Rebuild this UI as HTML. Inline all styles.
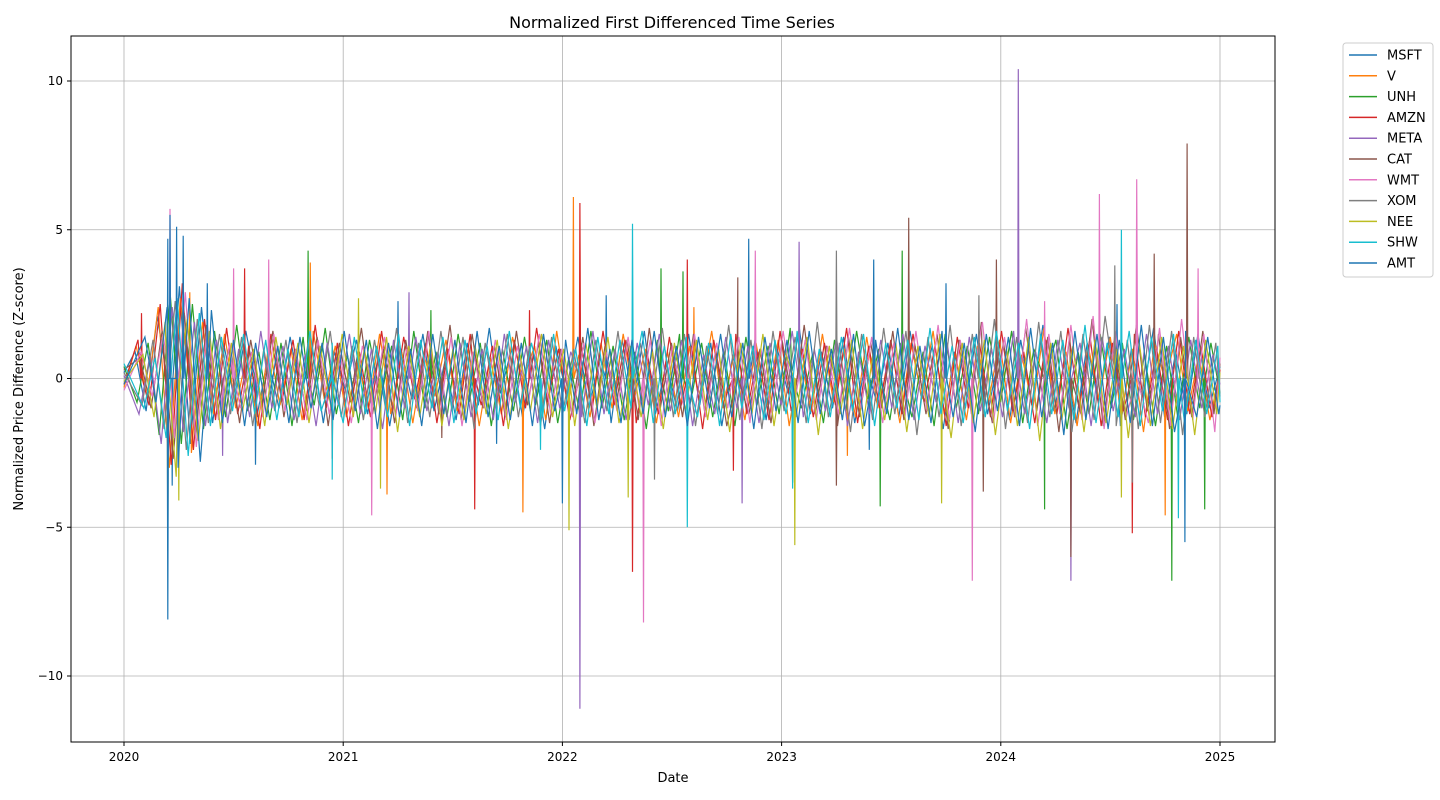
<!DOCTYPE html>
<html><head><meta charset="utf-8">
<style>
html,body{margin:0;padding:0;background:#fff;width:1440px;height:800px;overflow:hidden;font-family:"Liberation Sans","DejaVu Sans",sans-serif}
svg text{font-family:"DejaVu Sans","Liberation Sans",sans-serif}
</style></head><body>
<svg id="chart" width="1440" height="800" xmlns="http://www.w3.org/2000/svg">
<text x="672" y="28" text-anchor="middle" font-size="16">Normalized First Differenced Time Series</text>
<g id="grid"></g>
<clipPath id="cp"><rect x="71" y="36" width="1204" height="706"/></clipPath>
<g id="lines" clip-path="url(#cp)"></g>
<rect x="71" y="36" width="1204" height="706" fill="none" stroke="#000" stroke-width="1"/>
<g id="axes"></g>
<text x="673" y="782" text-anchor="middle" font-size="13">Date</text>
<text transform="translate(23,389) rotate(-90)" text-anchor="middle" font-size="13">Normalized Price Difference (Z-score)</text>
<g id="legend"></g>
</svg>
<script>
const names=["MSFT","V","UNH","AMZN","META","CAT","WMT","XOM","NEE","SHW","AMT"];
const colors=["#1f77b4","#ff7f0e","#2ca02c","#d62728","#9467bd","#8c564b","#e377c2","#7f7f7f","#bcbd22","#17becf","#1f77b4"];
const xTicks=[2020,2021,2022,2023,2024,2025];
const yTicks=[-10,-5,0,5,10];
const baseMSFT=[0.2,0.9,-1.1,2.1,-2.6,3.1,-2.2,2.4,-1.5,1.2,-0.8,1.6,-1.3,0.7,-1.0,1.4,-0.6,1.1,-1.5,0.9,-0.4,1.3,-1.2,0.8,-1.6,1.0,-0.7,1.5,-1.1,0.6,-1.4,1.2,-0.9,1.7,-0.5,1.0,-1.3,0.8,-1.7,1.1,-0.6,1.4,-1.0,0.7,-1.5,1.3,-0.8,1.6,-1.2,0.5,-1.1,1.5,-0.9,1.2,-1.6,0.8,-0.7,1.3,-1.4,1.0,-0.5,1.7,-1.2,0.9,-1.0,1.4,-1.5,0.6,-0.8,1.2,-1.3,1.6,-0.6,1.1,-1.7,0.9,-1.0,1.5,-1.2,0.7,-1.4,1.3,-0.9,1.8,-1.1,0.6,-1.5,1.2,-0.8,1.4,-1.6,1.0,-0.7,1.7,-1.3,0.9,-1.2,1.5,-1.0,0.4];
const baseV=[-0.3,1.1,-0.6,2.4,-3.0,2.7,-2.5,1.9,-1.2,1.5,-1.0,0.8,-1.6,1.2,-0.9,1.0,-1.4,1.6,-0.7,1.1,-1.3,0.6,-1.0,1.5,-1.2,0.9,-1.5,0.8,-0.6,1.3,-1.1,1.0,-1.6,0.7,-1.2,1.4,-0.8,1.1,-1.4,1.6,-0.9,0.8,-1.3,1.2,-1.0,1.5,-0.7,1.0,-1.5,0.9,-1.3,1.1,-0.6,1.6,-1.0,0.8,-1.4,1.2,-0.9,1.3,-1.6,0.7,-1.1,1.5,-0.8,1.0,-1.3,1.4,-1.0,0.6,-1.5,1.2,-0.7,1.6,-1.2,0.9,-1.4,1.1,-0.8,1.3,-1.5,0.8,-1.0,1.7,-1.2,0.9,-1.6,1.1,-0.7,1.4,-1.3,1.0,-1.8,1.2,-0.9,1.5,-1.1,0.8,-1.4,0.3];
const baseUNH=[0.4,-0.8,1.2,-1.9,2.8,-2.2,2.5,-1.7,1.6,-1.3,1.8,-1.1,0.9,-1.4,1.2,-1.6,1.4,-0.9,1.7,-1.2,0.8,-1.5,1.3,-0.7,1.1,-1.4,1.6,-1.0,0.9,-1.3,1.5,-0.8,1.2,-1.6,1.0,-1.1,1.4,-0.9,1.3,-1.5,0.7,-1.2,1.6,-1.0,1.1,-1.4,0.9,-1.7,1.3,-1.1,1.5,-0.8,1.2,-1.3,1.0,-1.6,1.4,-0.9,1.1,-1.2,1.7,-1.0,0.8,-1.5,1.3,-1.1,1.6,-0.7,1.0,-1.4,1.2,-1.3,0.9,-1.6,1.5,-1.0,1.1,-1.2,1.4,-0.8,1.6,-1.5,1.0,-1.1,1.3,-1.7,0.9,-1.2,1.5,-1.0,1.2,-1.4,0.8,-1.6,1.1,-1.3,1.4,-1.0,1.2,-0.5];
const baseAMZN=[-0.2,1.3,-0.9,2.5,-2.9,3.2,-2.4,2.0,-1.4,1.7,-1.2,1.1,-1.7,1.5,-0.8,1.3,-1.4,1.8,-1.0,1.2,-1.6,0.9,-1.3,1.6,-1.1,1.4,-0.7,1.2,-1.5,1.0,-1.2,1.5,-0.9,1.1,-1.6,1.3,-1.0,1.7,-0.8,1.0,-1.4,1.2,-1.1,1.6,-0.9,1.3,-1.5,0.8,-1.2,1.4,-1.0,1.1,-1.7,1.3,-0.7,1.5,-1.2,0.9,-1.4,1.6,-1.1,1.0,-1.3,1.2,-0.9,1.7,-1.5,1.1,-1.0,1.3,-1.2,1.5,-0.8,1.1,-1.6,1.4,-1.0,1.2,-1.3,1.6,-1.1,0.9,-1.5,1.3,-1.2,1.7,-1.0,1.4,-1.6,1.2,-1.1,1.5,-1.3,1.0,-1.4,1.6,-1.2,1.1,-1.3,0.3];
const baseMETA=[0.1,-1.2,0.8,-2.2,2.4,-1.8,1.9,-1.6,1.3,-1.5,1.0,-1.3,1.6,-1.0,1.1,-1.4,0.8,-1.6,1.2,-0.9,1.5,-1.2,1.0,-1.7,1.3,-1.0,1.4,-1.1,0.9,-1.6,1.2,-1.3,1.0,-1.4,1.5,-0.8,1.1,-1.5,1.3,-1.0,0.9,-1.3,1.6,-1.2,1.0,-1.4,1.2,-0.9,1.5,-1.1,1.3,-1.6,0.8,-1.2,1.4,-1.0,1.1,-1.5,1.2,-0.9,1.6,-1.3,1.0,-1.1,1.4,-1.6,0.9,-1.2,1.3,-1.0,1.5,-1.4,1.1,-0.8,1.2,-1.5,1.4,-1.1,1.0,-1.3,1.6,-1.2,0.9,-1.5,1.3,-1.0,1.2,-1.6,1.4,-1.1,1.0,-1.3,1.5,-1.2,1.1,-1.4,1.3,-1.0,0.8,-0.2];
const baseCAT=[0.3,0.7,-1.0,1.6,-2.7,2.2,-2.0,1.8,-1.2,1.0,-1.5,1.3,-0.9,1.6,-1.3,1.0,-1.1,1.4,-1.6,1.2,-0.8,1.7,-1.2,1.0,-1.5,1.3,-1.0,1.6,-1.2,1.8,-1.4,1.5,-1.0,1.1,-1.3,1.6,-0.9,1.2,-1.5,1.0,-1.2,1.4,-1.6,1.1,-0.9,1.3,-1.4,1.7,-1.0,1.2,-1.3,1.5,-1.1,0.9,-1.6,1.4,-1.2,1.0,-1.5,1.3,-1.0,1.8,-1.2,1.1,-1.6,1.4,-1.3,1.2,-1.0,1.6,-1.4,1.1,-1.2,1.5,-1.7,1.3,-1.0,1.9,-1.5,1.2,-1.3,1.7,-1.1,1.4,-1.8,1.5,-1.2,2.0,-1.6,1.3,-1.4,1.8,-1.1,1.5,-1.7,1.4,-1.3,1.6,-1.2,0.5];
const baseWMT=[-0.4,0.9,-0.6,1.5,-2.0,2.9,-2.3,1.8,-1.4,1.2,-1.0,0.9,-1.3,1.5,-1.1,1.0,-1.4,1.3,-1.2,0.8,-1.5,1.1,-0.9,1.4,-1.3,1.0,-1.1,1.6,-1.2,1.4,-1.6,0.9,-1.0,1.3,-1.4,1.1,-0.8,1.5,-1.2,1.0,-1.3,1.2,-1.5,0.9,-1.1,1.4,-1.0,1.3,-1.6,1.1,-0.9,1.5,-1.3,1.2,-1.0,1.4,-1.5,1.0,-1.2,1.6,-0.9,1.3,-1.4,1.1,-1.2,1.7,-1.0,1.4,-1.5,1.2,-1.3,1.6,-1.1,1.8,-1.4,1.3,-1.2,1.9,-1.5,1.4,-1.3,2.0,-1.6,1.5,-1.2,1.8,-1.4,2.1,-1.7,1.6,-1.3,1.9,-1.5,1.7,-1.6,2.0,-1.4,1.5,-1.8,0.7];
const baseXOM=[0.2,-0.9,1.3,-1.7,2.6,-2.4,2.0,-1.5,1.5,-1.2,1.4,-1.6,1.0,-1.1,1.3,-1.5,1.2,-0.9,1.6,-1.3,1.1,-1.4,1.3,-1.0,1.7,-1.5,1.2,-1.3,1.6,-1.1,1.4,-1.7,1.2,-1.0,1.5,-1.3,1.1,-1.6,1.4,-1.2,1.0,-1.5,1.3,-1.1,1.6,-1.4,1.2,-1.0,1.7,-1.3,1.5,-1.6,1.1,-1.2,1.8,-1.4,1.3,-1.7,1.6,-1.1,1.4,-1.5,1.9,-1.3,1.2,-1.8,1.5,-1.4,1.7,-1.2,1.6,-1.9,1.4,-1.3,1.8,-1.6,1.5,-1.2,2.0,-1.7,1.4,-1.5,1.9,-1.3,1.6,-1.8,1.5,-1.4,2.1,-1.6,1.3,-1.7,1.8,-1.5,1.6,-1.9,1.4,-1.3,1.2,-0.6];
const baseNEE=[-0.1,0.8,-1.3,1.9,-3.3,2.0,-2.1,1.6,-1.7,1.2,-1.1,1.0,-1.6,1.4,-0.9,1.2,-1.5,1.1,-1.0,1.5,-1.3,1.0,-1.2,1.4,-1.8,1.1,-1.3,1.2,-1.6,1.0,-1.4,1.1,-1.2,1.3,-1.7,0.9,-1.1,1.5,-1.3,1.0,-1.6,1.2,-1.0,1.4,-1.5,1.1,-1.3,0.9,-1.7,1.2,-1.1,1.3,-1.4,1.0,-1.8,1.2,-1.2,1.5,-1.6,0.9,-1.3,1.4,-1.9,1.1,-1.2,1.3,-1.7,1.0,-1.4,1.2,-1.8,1.1,-1.3,1.5,-2.0,1.2,-1.5,1.3,-1.9,1.0,-1.6,1.4,-2.1,1.2,-1.4,1.1,-1.8,1.3,-1.5,1.0,-2.0,1.2,-1.6,1.4,-1.7,1.1,-1.9,1.3,-1.2,0.2];
const baseSHW=[0.5,-1.0,0.7,-2.0,2.7,-2.6,2.2,-1.6,1.4,-1.1,1.5,-1.2,1.3,-1.4,1.0,-1.3,1.6,-1.1,1.2,-1.5,1.4,-1.2,1.1,-1.3,1.5,-1.6,1.3,-1.0,1.4,-1.5,1.3,-1.2,1.1,-1.4,1.6,-1.0,1.2,-1.3,1.5,-1.1,1.0,-1.6,1.4,-1.2,1.3,-1.0,1.6,-1.5,1.1,-1.2,1.4,-1.3,1.2,-1.6,1.5,-1.0,1.1,-1.4,1.3,-1.2,1.6,-1.5,1.0,-1.3,1.4,-1.1,1.5,-1.6,1.2,-1.0,1.3,-1.4,1.7,-1.2,1.1,-1.5,1.4,-1.3,1.6,-1.1,1.2,-1.7,1.5,-1.2,1.3,-1.4,1.8,-1.5,1.2,-1.3,1.6,-1.6,1.4,-1.1,1.5,-1.5,1.3,-1.2,1.1,-0.8];
const baseAMT=[-0.2,1.4,-0.8,2.4,-3.0,2.7,-2.8,2.3,-1.5,1.3,-1.6,1.2,-1.3,1.1,-1.5,1.4,-1.0,1.2,-1.4,1.6,-1.1,1.3,-1.7,1.2,-1.3,1.0,-1.6,1.5,-1.2,1.3,-1.5,1.6,-1.3,1.1,-1.4,1.2,-1.6,1.5,-1.1,1.3,-1.2,1.7,-1.4,1.0,-1.5,1.3,-1.2,1.6,-1.3,1.1,-1.6,1.4,-1.0,1.5,-1.3,1.2,-1.7,1.4,-1.1,1.3,-1.5,1.6,-1.2,1.0,-1.4,1.5,-1.6,1.3,-1.2,1.7,-1.4,1.1,-1.5,1.6,-1.3,1.2,-1.8,1.5,-1.1,1.4,-1.6,1.7,-1.3,1.2,-1.9,1.6,-1.4,1.5,-1.7,1.3,-1.5,1.8,-1.6,1.4,-1.8,1.6,-1.3,1.4,-1.2,-0.9];
const spikeMSFT=[[2020.2,4.7],[2020.22,-3.6],[2020.6,-2.9],[2021.25,2.6],[2021.7,-2.2],[2022.2,2.8],[2022.85,4.7],[2023.4,-2.4],[2024.53,2.5]];
const spikeV=[[2020.3,2.9],[2020.85,3.9],[2021.2,-3.9],[2021.82,-4.5],[2022.05,6.1],[2022.6,2.4],[2023.3,-2.6],[2024.75,-4.6]];
const spikeUNH=[[2020.84,4.3],[2021.4,2.3],[2022.45,3.7],[2022.55,3.6],[2023.05,-3.5],[2023.55,4.3],[2023.45,-4.3],[2024.2,-4.4],[2024.78,-6.8],[2024.93,-4.4]];
const spikeAMZN=[[2020.08,2.2],[2020.55,3.7],[2020.95,-2.7],[2021.6,-4.4],[2021.85,2.3],[2022.08,5.9],[2022.32,-6.5],[2022.57,4.0],[2022.78,-3.1],[2024.6,-5.2]];
const spikeMETA=[[2020.45,-2.6],[2021.3,2.9],[2022.08,-11.1],[2022.82,-4.2],[2023.08,4.6],[2024.08,10.4],[2024.32,-6.8]];
const spikeCAT=[[2021.45,-2.0],[2022.8,3.4],[2023.25,-3.6],[2023.58,5.4],[2023.98,4.0],[2023.92,-3.8],[2024.32,-6.0],[2024.7,4.2],[2024.85,7.9]];
const spikeWMT=[[2020.21,5.7],[2020.5,3.7],[2020.66,4.0],[2021.13,-4.6],[2022.37,-8.2],[2022.88,4.3],[2023.87,-6.8],[2024.2,2.6],[2024.45,6.2],[2024.62,6.7],[2024.9,3.7]];
const spikeXOM=[[2022.42,-3.4],[2023.25,4.3],[2023.9,2.8],[2024.52,3.8],[2024.6,-3.5]];
const spikeNEE=[[2020.2,-5.8],[2020.25,-4.1],[2021.07,2.7],[2021.17,-3.7],[2022.03,-5.1],[2022.3,-4.0],[2023.06,-5.6],[2023.73,-4.2],[2024.55,-4.0]];
const spikeSHW=[[2020.95,-3.4],[2021.9,-2.4],[2022.32,5.2],[2022.57,-5.0],[2023.05,-3.7],[2024.55,5.0],[2024.81,-4.7]];
const spikeAMT=[[2020.2,-8.1],[2020.21,5.5],[2020.24,5.1],[2020.27,4.8],[2020.38,3.2],[2022.0,-4.2],[2023.42,4.0],[2023.75,3.2],[2024.84,-5.5]];
const bases=[baseMSFT,baseV,baseUNH,baseAMZN,baseMETA,baseCAT,baseWMT,baseXOM,baseNEE,baseSHW,baseAMT];
const spikes=[spikeMSFT,spikeV,spikeUNH,spikeAMZN,spikeMETA,spikeCAT,spikeWMT,spikeXOM,spikeNEE,spikeSHW,spikeAMT];

const X=t=>124+(t-2020)*219.2;
const Y=v=>378.5-v*29.75;
const NS="http://www.w3.org/2000/svg";
const grid=document.getElementById('grid'),axes=document.getElementById('axes');
function mk(tag,attrs,parent){const e=document.createElementNS(NS,tag);for(const k in attrs)e.setAttribute(k,attrs[k]);parent.appendChild(e);return e;}
xTicks.forEach(t=>{const x=X(t);
 const g=mk('line',{x1:x,x2:x,y1:36,y2:742,stroke:'#b0b0b0','stroke-width':0.8},grid);
 
 
 mk('line',{x1:x,x2:x,y1:742,y2:746,stroke:'#000'},axes);
 const tx=mk('text',{x:x,y:761,'text-anchor':'middle','font-size':12},axes);tx.textContent=t;
 
 
});
yTicks.forEach(v=>{const y=Y(v);
 const g=mk('line',{x1:71,x2:1275,y1:y,y2:y,stroke:'#b0b0b0','stroke-width':0.8},grid);
 
 
 mk('line',{x1:67,x2:71,y1:y,y2:y,stroke:'#000'},axes);
 const tx=mk('text',{x:63,y:y+4,'text-anchor':'end','font-size':12},axes);tx.textContent=(v<0?'\u2212':'')+Math.abs(v);
 
 
});
const lines=document.getElementById('lines');
bases.forEach((b,i)=>{
 const off=i*0.0045;
 const pts=b.map((v,j)=>{let t=2020+5*j/(b.length-1);if(j>0&&j<b.length-1)t+=off;return [t,v];});
 spikes[i].forEach(s=>{pts.push([s[0]-0.003,0]);pts.push([s[0],s[1]]);pts.push([s[0]+0.003,0]);});
 pts.sort((a,c)=>a[0]-c[0]);
 const d=pts.map((p,k)=>(k?'L':'M')+X(p[0]).toFixed(1)+','+Y(p[1]).toFixed(1)).join('');
 const pa=mk('path',{d:d,fill:'none',stroke:colors[i],'stroke-width':1.2},lines);
 
 
});
const lg=document.getElementById('legend');
const box=mk('rect',{x:1343,y:43,width:90,height:234,fill:'#fff',stroke:'#ccc',rx:3},lg);


names.forEach((n,i)=>{const y=55+i*20.8;
 const g=mk('g',{},lg);
 
 
 mk('line',{x1:1349,x2:1377,y1:y,y2:y,stroke:colors[i],'stroke-width':1.5},g);
 const t=mk('text',{x:1387,y:y+4.5,'font-size':13},g);t.textContent=n;
});
</script>
</body></html>
